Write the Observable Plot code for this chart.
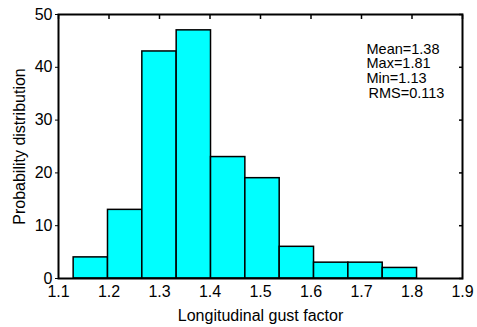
<!DOCTYPE html>
<html>
<head>
<meta charset="utf-8">
<script src="https://cdn.jsdelivr.net/npm/d3@7"></script>
<script src="https://cdn.jsdelivr.net/npm/@observablehq/plot@0.6"></script>
<style>
  body { margin: 0; background: #fff; }
  svg { font-family: "Liberation Sans", Arial, sans-serif; }
</style>
</head>
<body>
<div id="chart"></div>
<script>
// Histogram bin edges (1.13 to 1.81, 10 bins)
const binEdges = [1.13, 1.198, 1.266, 1.334, 1.402, 1.47, 1.538, 1.606, 1.674, 1.742, 1.81];
const counts = [4, 13, 43, 47, 23, 19, 6, 3, 3, 2];
const xTicks = [1.1, 1.2, 1.3, 1.4, 1.5, 1.6, 1.7, 1.8, 1.9];
const yTicks = [0, 10, 20, 30, 40, 50];
const statLines = ["Mean=1.38", "Max=1.81", "Min=1.13"];
const rmsLine = ["RMS=0.113"];

const bins = counts.map((c, i) => ({x1: binEdges[i], x2: binEdges[i + 1], y: c}));

const chart = Plot.plot({
  width: 477,
  height: 327,
  marginLeft: 58,
  marginRight: 15,
  marginTop: 14,
  marginBottom: 49,
  style: {fontFamily: "Liberation Sans, Arial, sans-serif", fontSize: "16px", color: "#000", background: "#fff"},
  x: {domain: [1.1, 1.9]},
  y: {domain: [0, 50]},
  marks: [
    Plot.rectY(bins, {x1: "x1", x2: "x2", y: "y", fill: "#00FFFF", stroke: "#000", strokeWidth: 1.5}),
    Plot.axisX({anchor: "bottom", ticks: xTicks, tickSize: 0, tickPadding: 7, tickFormat: d => d.toFixed(1), fontSize: 16,
      label: "Longitudinal gust factor", labelAnchor: "center", labelOffset: 42, labelArrow: "none"}),
    Plot.axisX({anchor: "top", ticks: xTicks, tickSize: -4, tickFormat: () => "", label: null, strokeWidth: 1.5}),
    Plot.axisY({anchor: "left", ticks: yTicks, tickSize: 3, tickPadding: 3, fontSize: 16,
      label: "Probability distribution", labelAnchor: "center", labelOffset: 45, labelArrow: "none"}),
    Plot.axisY({anchor: "right", ticks: yTicks, tickSize: -4, tickFormat: () => "", label: null, strokeWidth: 1.5}),
    Plot.frame({stroke: "#000", strokeWidth: 2}),
    Plot.text([statLines.join("\n")], {frameAnchor: "top-right", textAnchor: "start", dx: -96, dy: 28.5, lineAnchor: "top", lineHeight: 1.02, fontSize: 14.5, fill: "#000"}),
    Plot.text(rmsLine, {frameAnchor: "top-right", textAnchor: "start", dx: -94, dy: 73, lineAnchor: "top", fontSize: 14.5, fill: "#000"})
  ]
});
document.getElementById("chart").appendChild(chart);
</script>
</body>
</html>
